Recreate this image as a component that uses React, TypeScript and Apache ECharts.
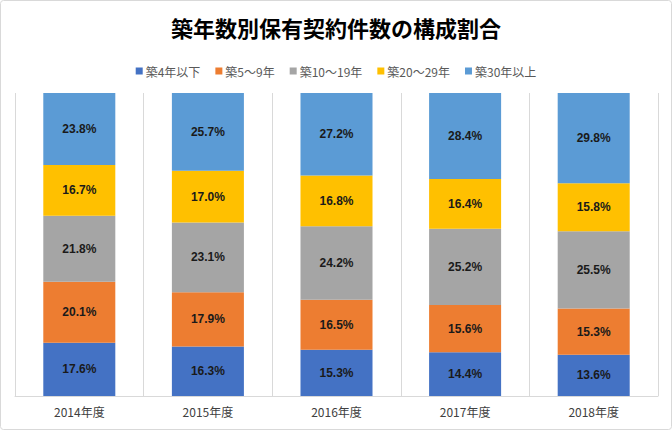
import React, { useEffect, useRef } from "react";
import * as echarts from "echarts";

const categories = ["2014年度", "2015年度", "2016年度", "2017年度", "2018年度"];
const seriesNames = ["築4年以下", "築5～9年", "築10～19年", "築20～29年", "築30年以上"];
const age0to4 = [17.6, 16.3, 15.3, 14.4, 13.6];
const age5to9 = [20.1, 17.9, 16.5, 15.6, 15.3];
const age10to19 = [21.8, 23.1, 24.2, 25.2, 25.5];
const age20to29 = [16.7, 17.0, 16.8, 16.4, 15.8];
const age30plus = [23.8, 25.7, 27.2, 28.4, 29.8];
const colors = ["#4472C4", "#ED7D31", "#A5A5A5", "#FFC000", "#5B9BD5"];

export default function App() {
  const ref = useRef<HTMLDivElement>(null);
  useEffect(() => {
    document.body.style.margin = "0";
    const chart = echarts.init(ref.current!, null, { renderer: "svg" });
    const data = [age0to4, age5to9, age10to19, age20to29, age30plus];
    chart.setOption({
      animation: false,
      backgroundColor: "#ffffff",
      title: {
        text: "築年数別保有契約件数の構成割合",
        left: "center",
        top: 11,
        textStyle: {
          fontSize: 22,
          fontWeight: "bold",
          color: "#000000",
          fontFamily: "Noto Sans CJK JP",
        },
      },
      legend: {
        top: 60,
        left: "center",
        itemWidth: 7,
        itemHeight: 7,
        itemGap: 15,
        icon: "rect",
        textStyle: { fontSize: 12, color: "#595959", fontFamily: "Noto Sans CJK JP", padding: [0, 0, 0, -2] },
        data: seriesNames,
      },
      grid: { left: 15, right: 14, top: 93, bottom: 34 },
      xAxis: {
        type: "category",
        data: categories,
        axisLine: { show: true, lineStyle: { color: "#d9d9d9", width: 1 } },
        axisTick: { show: false },
        splitLine: { show: true, lineStyle: { color: "#d9d9d9", width: 1 } },
        axisLabel: { fontSize: 12, color: "#404040", margin: 9, fontFamily: "Noto Sans CJK JP" },
      },
      yAxis: {
        type: "value",
        min: 0,
        max: 100,
        show: false,
        splitLine: { show: false },
      },
      series: seriesNames.map((name, i) => ({
        name,
        type: "bar",
        stack: "total",
        barWidth: "56%",
        data: data[i],
        itemStyle: { color: colors[i] },
        label: {
          show: true,
          position: "inside",
          formatter: (p: any) => p.value.toFixed(1) + "%",
          fontSize: 12,
          fontWeight: "bold",
          color: "#1a1a1a",
          fontFamily: "Liberation Sans",
        },
      })),
      graphic: [
        {
          type: "rect",
          shape: { x: 0.5, y: 0.5, width: 671, height: 429, r: 3 },
          style: { fill: "none", stroke: "#d9d9d9", lineWidth: 1 },
          silent: true,
        },
      ],
    });
    return () => chart.dispose();
  }, []);
  return (
    <div
      ref={ref}
      style={{ position: "absolute", left: 0, top: 0, width: 672, height: 430 }}
    />
  );
}
